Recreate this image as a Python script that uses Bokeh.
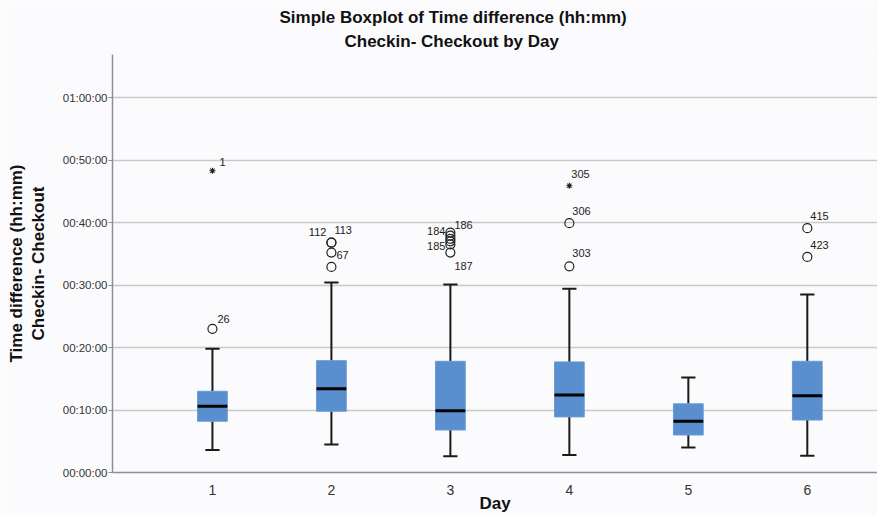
from bokeh.plotting import figure
from bokeh.models import (ColumnDataSource, FixedTicker, LinearAxis, Range1d, Title)
from bokeh.core.properties import value
from bokeh.embed import file_html
from bokeh.resources import INLINE

# ---------------- data (minutes) ----------------
days = [1, 2, 3, 4, 5, 6]
q1 = [8.2, 9.8, 6.8, 8.9, 6.0, 8.4]
median = [10.6, 13.4, 9.9, 12.4, 8.2, 12.3]
q3 = [13.0, 17.9, 17.8, 17.7, 11.0, 17.8]
whisker_low = [3.6, 4.5, 2.6, 2.8, 4.0, 2.7]
whisker_high = [19.8, 30.4, 30.1, 29.4, 15.2, 28.5]

# mild outliers (circles)
out_day = [1, 2, 2, 2, 2, 3, 3, 3, 3, 3, 3, 4, 4, 6, 6]
out_val = [23.0, 36.8, 36.8, 35.2, 32.9, 38.4, 37.9, 37.4, 37.0, 36.5, 35.2, 39.9, 33.0, 39.1, 34.5]
# extreme outliers (stars)
ext_day = [1, 4]
ext_val = [48.3, 45.9]

# case labels placed right of their point
lab_day = [1, 1, 2, 2, 3, 3, 4, 4, 4, 6, 6]
lab_val = [48.3, 23.0, 36.8, 35.2, 38.4, 35.2, 45.9, 39.9, 33.0, 39.1, 34.5]
lab_text = ["1", "26", "113", "67", "186", "187", "305", "306", "303", "415", "423"]
# case labels placed left of their point
lab_l_day = [2, 3, 3]
lab_l_val = [36.8, 38.4, 36.5]
lab_l_text = ["112", "184", "185"]

y_ticks = [0, 10, 20, 30, 40, 50, 60]
y_tick_labels = ["00:00:00", "00:10:00", "00:20:00", "00:30:00", "00:40:00", "00:50:00", "01:00:00"]

# ---------------- styling / positions ----------------
lab_dx = [7, 5, 3, 5, 4, 4, 2, 3, 3, 3, 3]
lab_dy = [-9, -10, -13, 2, -8, 13, -12, -12, -13, -12, -12]
lab_l_dx = [-5, -5, -5]
lab_l_dy = [-11, -2, 2]

FONT = "Liberation Sans"
BG = "#fbfbfd"
DARK = "#111111"

p = figure(width=877, height=516, output_backend="svg", toolbar_location=None,
           title=None, x_range=Range1d(0.16, 6.59), y_range=Range1d(0, 66.9),
           min_border_left=112, min_border_top=54, min_border_bottom=44,
           min_border_right=0)
p.background_fill_color = BG
p.border_fill_color = BG
p.outline_line_color = None

t2 = Title(text="Checkin- Checkout by Day", align="left", offset=232, standoff=7,
           text_font=FONT, text_font_size="17px", text_font_style="bold",
           text_color=DARK)
t1 = Title(text="Simple Boxplot of Time difference (hh:mm)", align="left", offset=167,
           standoff=0, text_font=FONT, text_font_size="17px", text_font_style="bold",
           text_color=DARK)
p.add_layout(t2, "above")
p.add_layout(t1, "above")

# grid
p.xgrid.grid_line_color = None
p.ygrid.ticker = FixedTicker(ticks=y_ticks)
p.ygrid.grid_line_color = "#c9c9c9"
p.ygrid.grid_line_width = 1.5

# y axis
ya = p.yaxis[0]
ya.ticker = FixedTicker(ticks=y_ticks)
ya.major_label_overrides = {t: l for t, l in zip(y_ticks, y_tick_labels)}
ya.major_label_text_font = FONT
ya.major_label_text_font_size = "11.5px"
ya.major_label_text_color = "#333333"
ya.major_tick_in = 0
ya.major_tick_out = 4
ya.major_tick_line_color = "#8a9098"
ya.minor_tick_line_color = None
ya.axis_line_color = "#8a9098"
ya.axis_line_width = 1.5
ya.major_label_standoff = 1
ya.axis_label = "Checkin- Checkout"
ya.axis_label_text_font = FONT
ya.axis_label_text_font_size = "17px"
ya.axis_label_text_font_style = "bold"
ya.axis_label_text_color = DARK
ya.axis_label_standoff = 12

y2 = LinearAxis(ticker=FixedTicker(ticks=[]), axis_label="Time difference (hh:mm)",
                axis_line_color=None, major_tick_line_color=None, minor_tick_line_color=None,
                major_label_text_font_size="0px", major_tick_out=0, major_tick_in=0,
                major_label_standoff=0, axis_label_standoff=0,
                axis_label_text_font=FONT, axis_label_text_font_size="17px",
                axis_label_text_font_style="bold", axis_label_text_color=DARK)
p.add_layout(y2, "left")

# x axis
xa = p.xaxis[0]
xa.ticker = FixedTicker(ticks=days)
xa.major_label_text_font = FONT
xa.major_label_text_font_size = "14px"
xa.major_label_text_color = "#333333"
xa.major_tick_line_color = None
xa.minor_tick_line_color = None
xa.axis_line_color = "#8a9098"
xa.axis_line_width = 1.5
xa.major_label_standoff = 6
xa.axis_label = "Day"
xa.axis_label_text_font = FONT
xa.axis_label_text_font_size = "17px"
xa.axis_label_text_font_style = "bold"
xa.axis_label_text_color = DARK
xa.axis_label_standoff = -4

src = ColumnDataSource(dict(day=days, q1=q1, med=median, q3=q3, lo=whisker_low, hi=whisker_high,
                            capl=[d - 0.06 for d in days], capr=[d + 0.06 for d in days],
                            ml=[d - 0.125 for d in days], mr=[d + 0.125 for d in days]))

# whiskers
p.segment(x0="day", y0="q3", x1="day", y1="hi", source=src, line_color="#1a1a1a", line_width=2)
p.segment(x0="day", y0="q1", x1="day", y1="lo", source=src, line_color="#1a1a1a", line_width=2)
p.segment(x0="capl", y0="hi", x1="capr", y1="hi", source=src, line_color="#1a1a1a", line_width=2)
p.segment(x0="capl", y0="lo", x1="capr", y1="lo", source=src, line_color="#1a1a1a", line_width=2)
# boxes
p.vbar(x="day", width=0.25, bottom="q1", top="q3", source=src,
       fill_color="#5a8fcf", line_color="#6a9bd6", line_width=1)
# medians
p.segment(x0="ml", y0="med", x1="mr", y1="med", source=src, line_color="#000000", line_width=3)

# outliers
p.scatter(out_day, out_val, marker="circle", size=9, fill_color=None,
          line_color="#222222", line_width=1.2)
p.scatter(ext_day, ext_val, marker="asterisk", size=6, line_color="#222222", line_width=1.1)

# labels
p.text(x=lab_day, y=lab_val, text=lab_text, x_offset=lab_dx, y_offset=lab_dy,
       text_font=value(FONT), text_font_size="11px", text_color="#222222",
       text_align="left", text_baseline="middle")
p.text(x=lab_l_day, y=lab_l_val, text=lab_l_text, x_offset=lab_l_dx, y_offset=lab_l_dy,
       text_font=value(FONT), text_font_size="11px", text_color="#222222",
       text_align="right", text_baseline="middle")

open("out.html", "w").write(file_html(p, INLINE))
